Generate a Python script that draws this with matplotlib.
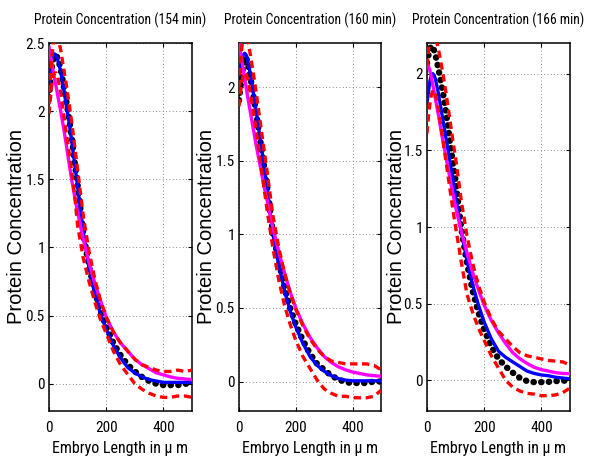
import matplotlib
matplotlib.use("Agg")
import matplotlib.pyplot as plt

NARROW = ['Liberation Sans Narrow', 'Roboto Condensed', 'Archivo Narrow', 'DejaVu Sans']
plt.rcParams['font.family'] = NARROW

x_um = [0, 5, 10, 15, 20, 25, 30, 40, 50, 60, 70, 80, 90, 100, 120, 140, 160, 180,
        200, 225, 250, 275, 300, 325, 350, 375, 400, 425, 450, 475, 500]

titles = ["Protein Concentration (154 min)",
          "Protein Concentration (160 min)",
          "Protein Concentration (166 min)"]

# --- 154 min ---
data_154 = [2.10, 2.22, 2.32, 2.38, 2.41, 2.41, 2.39, 2.32, 2.20, 2.08, 1.95, 1.80, 1.62, 1.46,
            1.10, 0.86, 0.68, 0.53, 0.42, 0.30, 0.21, 0.14, 0.09, 0.05, 0.02, 0.0, -0.01, -0.01,
            -0.01, 0.0, 0.0]
fit_154 = [2.20, 2.30, 2.37, 2.41, 2.42, 2.41, 2.38, 2.30, 2.18, 2.05, 1.92, 1.77, 1.61, 1.45,
           1.11, 0.85, 0.66, 0.51, 0.40, 0.28, 0.19, 0.12, 0.08, 0.05, 0.03, 0.02, 0.01, 0.01,
           0.01, 0.01, 0.01]
model_154 = [2.47, 2.41, 2.35, 2.29, 2.23, 2.18, 2.12, 2.01, 1.89, 1.76, 1.62, 1.49, 1.37, 1.26,
             1.06, 0.89, 0.74, 0.61, 0.49, 0.38, 0.30, 0.24, 0.18, 0.14, 0.11, 0.08, 0.065, 0.05,
             0.04, 0.035, 0.03]
upper_154 = [2.05, 2.25, 2.40, 2.50, 2.56, 2.57, 2.55, 2.46, 2.33, 2.20, 2.06, 1.91, 1.74, 1.57,
             1.23, 0.97, 0.77, 0.61, 0.49, 0.38, 0.30, 0.24, 0.18, 0.14, 0.12, 0.10, 0.09, 0.09,
             0.10, 0.09, 0.10]
lower_154 = [1.98, 2.10, 2.20, 2.26, 2.28, 2.28, 2.25, 2.15, 2.00, 1.85, 1.70, 1.55, 1.38, 1.16,
             0.92, 0.75, 0.60, 0.47, 0.37, 0.24, 0.14, 0.07, 0.0, -0.04, -0.07, -0.09, -0.10,
             -0.10, -0.09, -0.09, -0.10]

# --- 160 min ---
data_160 = [1.91, 2.00, 2.08, 2.15, 2.20, 2.20, 2.17, 2.07, 1.95, 1.83, 1.70, 1.57, 1.44, 1.31,
            1.00, 0.82, 0.64, 0.50, 0.39, 0.28, 0.19, 0.12, 0.08, 0.04, 0.015, -0.005, -0.01,
            -0.01, -0.01, 0.0, 0.0]
fit_160 = [2.08, 2.12, 2.18, 2.22, 2.23, 2.22, 2.19, 2.09, 1.97, 1.84, 1.71, 1.58, 1.44, 1.30,
           1.00, 0.79, 0.62, 0.48, 0.37, 0.26, 0.17, 0.11, 0.07, 0.04, 0.02, 0.01, 0.005, 0.005,
           0.005, 0.005, 0.005]
model_160 = [2.30, 2.24, 2.18, 2.12, 2.06, 2.00, 1.94, 1.83, 1.72, 1.61, 1.51, 1.41, 1.31, 1.22,
             1.04, 0.88, 0.74, 0.61, 0.50, 0.39, 0.30, 0.23, 0.17, 0.13, 0.10, 0.08, 0.065, 0.055,
             0.045, 0.04, 0.036]
upper_160 = [2.00, 2.15, 2.27, 2.34, 2.37, 2.36, 2.33, 2.22, 2.10, 1.97, 1.83, 1.69, 1.55, 1.41,
             1.12, 0.91, 0.74, 0.60, 0.49, 0.38, 0.29, 0.22, 0.17, 0.14, 0.13, 0.12, 0.12, 0.12,
             0.12, 0.11, 0.08]
lower_160 = [1.87, 1.96, 2.03, 2.08, 2.10, 2.09, 2.06, 1.96, 1.84, 1.71, 1.57, 1.43, 1.29, 1.15,
             0.90, 0.69, 0.52, 0.39, 0.28, 0.17, 0.09, 0.01, -0.05, -0.08, -0.10, -0.10, -0.11,
             -0.11, -0.11, -0.10, -0.06]

# --- 166 min ---
data_166 = [2.07, 2.12, 2.16, 2.18, 2.18, 2.15, 2.12, 2.03, 1.93, 1.83, 1.70, 1.56, 1.43, 1.30,
            0.99, 0.76, 0.58, 0.44, 0.33, 0.22, 0.14, 0.09, 0.05, 0.015, -0.005, -0.012, -0.012,
            -0.01, -0.005, -0.003, 0.0]
fit_166 = [1.81, 1.88, 1.95, 1.99, 2.00, 1.99, 1.96, 1.87, 1.76, 1.65, 1.54, 1.43, 1.32, 1.20,
           0.97, 0.78, 0.62, 0.49, 0.38, 0.27, 0.19, 0.15, 0.12, 0.09, 0.06, 0.045, 0.035, 0.03,
           0.02, 0.015, 0.01]
model_166 = [2.07, 2.05, 2.02, 1.98, 1.93, 1.88, 1.83, 1.73, 1.62, 1.52, 1.42, 1.32, 1.22, 1.13,
             0.97, 0.83, 0.70, 0.59, 0.49, 0.39, 0.31, 0.24, 0.18, 0.14, 0.11, 0.085, 0.07, 0.06,
             0.05, 0.045, 0.043]
upper_166 = [2.05, 2.15, 2.24, 2.28, 2.29, 2.27, 2.24, 2.16, 2.06, 1.95, 1.83, 1.70, 1.57, 1.45,
             1.17, 0.94, 0.76, 0.62, 0.51, 0.40, 0.32, 0.27, 0.22, 0.18, 0.16, 0.15, 0.14, 0.13,
             0.125, 0.12, 0.10]
lower_166 = [1.61, 1.72, 1.80, 1.86, 1.89, 1.89, 1.86, 1.77, 1.64, 1.51, 1.38, 1.25, 1.12, 1.00,
             0.77, 0.56, 0.44, 0.34, 0.26, 0.16, 0.08, 0.0, -0.045, -0.07, -0.085, -0.09, -0.10,
             -0.10, -0.095, -0.08, -0.05]

datasets = [data_154, data_160, data_166]
fits = [fit_154, fit_160, fit_166]
models = [model_154, model_160, model_166]
uppers = [upper_154, upper_160, upper_166]
lowers = [lower_154, lower_160, lower_166]

y_tops = [2.5, 2.3, 2.2]
y_ticks = [[0, 0.5, 1, 1.5, 2, 2.5], [0, 0.5, 1, 1.5, 2], [0, 0.5, 1, 1.5, 2]]
x_ticks = [0, 200, 400]

W, H = 592, 461
fig = plt.figure(figsize=(W / 100, H / 100), dpi=100)

lefts = [49, 239, 427]
widths = [143, 142, 143]
ax_top, ax_bot = 43, 411
ylab_x = [17, 207, 396]

for i in range(3):
    ax = fig.add_axes([lefts[i] / W, (H - ax_bot) / H, widths[i] / W, (ax_bot - ax_top) / H])
    ax.plot(x_um, datasets[i], color='black', lw=4.6, linestyle=(0, (0.05, 1.15)),
            dash_capstyle='round', zorder=3)
    ax.plot(x_um, fits[i], color='blue', lw=2.4, zorder=4)
    ax.plot(x_um, models[i], color='magenta', lw=2.4, zorder=5)
    ax.plot(x_um, uppers[i], color='red', lw=2.4, linestyle=(0, (2.2, 1.4)), zorder=6)
    ax.plot(x_um, lowers[i], color='red', lw=2.4, linestyle=(0, (2.2, 1.4)), zorder=6)

    ax.set_xlim(0, 500)
    ax.set_ylim(-0.2, y_tops[i])
    ax.set_xticks(x_ticks)
    ax.set_xticklabels([str(t) for t in x_ticks])
    ax.set_yticks(y_ticks[i])
    ax.set_yticklabels(['%g' % t for t in y_ticks[i]])
    ax.grid(True, color='#666666', linestyle=(0, (1, 3)), linewidth=0.6)
    ax.set_axisbelow(True)
    ax.tick_params(direction='in', length=3, width=0.8, top=True, right=True,
                   labelsize=11, pad=3)
    ax.tick_params(axis='x', pad=7)
    for sp in ax.spines.values():
        sp.set_linewidth(1.1)

    ax.set_title(titles[i], fontsize=9.8, pad=0, y=1 + 23 / (ax_bot - ax_top), va='center')
    ax.set_xlabel("Embryo Length in \u03bc m", fontsize=11.5)
    ax.xaxis.set_label_coords(0.5, -37 / (ax_bot - ax_top))
    ax.xaxis.label.set_va('center')
    ax.set_ylabel("Protein Concentration", fontsize=14.5, family=['Liberation Sans', 'DejaVu Sans'])
    ax.yaxis.set_label_coords((ylab_x[i] - lefts[i]) / widths[i], 0.5)
    ax.yaxis.label.set_va('center')

fig.savefig("out.png", dpi=100)
